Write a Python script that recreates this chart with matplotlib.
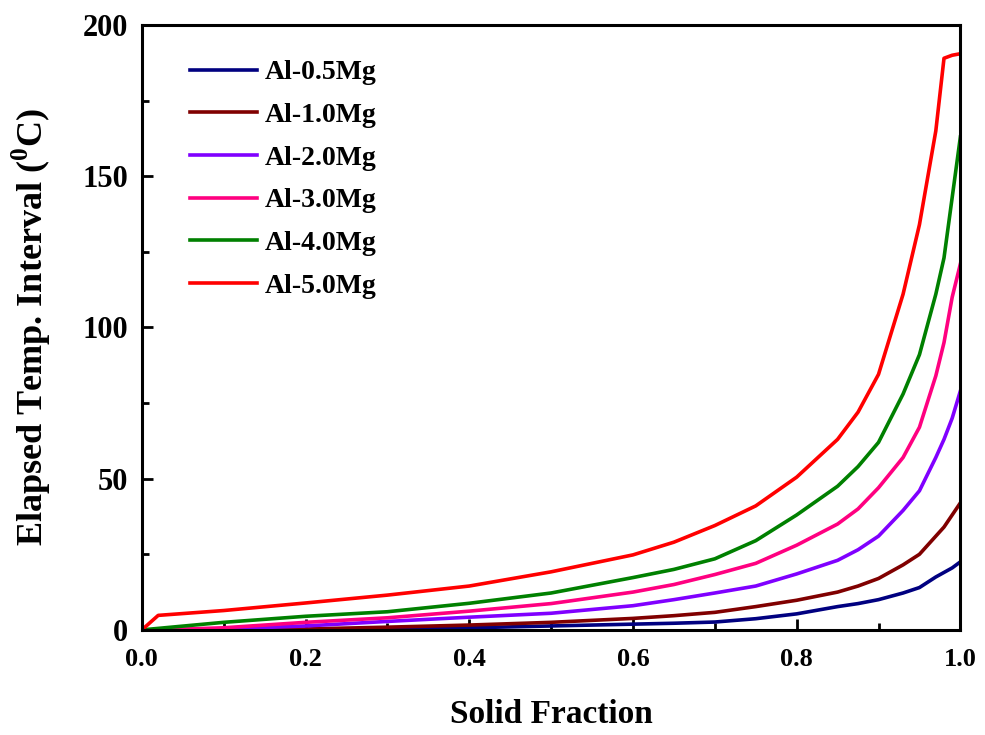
import matplotlib.pyplot as plt
from matplotlib.ticker import MultipleLocator

plt.rcParams['font.family'] = ['Liberation Serif', 'DejaVu Serif']
plt.rcParams['font.weight'] = 'bold'
plt.rcParams['mathtext.fontset'] = 'custom'
plt.rcParams['mathtext.rm'] = 'Liberation Serif:bold'
plt.rcParams['mathtext.bf'] = 'Liberation Serif:bold'

# solid fraction grid
fs = [0, 0.02, 0.1, 0.2, 0.3, 0.4, 0.5, 0.6, 0.65, 0.7, 0.75, 0.8, 0.85, 0.875,
      0.9, 0.93, 0.95, 0.97, 0.98, 0.99, 1.0]

# elapsed temperature interval (C) per alloy
mg05 = [0, 0, 0, 0, 0.3, 0.7, 1.3, 1.9, 2.2, 2.6, 3.7, 5.3, 7.7, 8.7,
        10, 12.2, 14, 17.5, 19, 20.5, 22.5]
mg10 = [0, 0, 0, 0.3, 0.9, 1.6, 2.5, 3.8, 4.7, 5.8, 7.7, 9.8, 12.5, 14.5,
        17, 21.5, 25, 31, 34, 38, 42]
mg20 = [0, 0, 0.3, 1.3, 2.8, 4.2, 5.5, 8.0, 10, 12.2, 14.5, 18.5, 23, 26.5,
        31, 39.5, 46, 57, 63, 70, 79]
mg30 = [0, 0, 0.7, 2.5, 4.0, 6.2, 8.7, 12.5, 15, 18.3, 22, 28, 35, 40,
        47, 57, 67, 84, 95, 110, 121]
mg40 = [0, 0.5, 2.5, 4.5, 6.0, 8.8, 12.2, 17.3, 20, 23.5, 29.5, 38, 47.5, 54,
        62, 78, 91, 111, 123, 143, 163]
mg50 = [0, 4.8, 6.4, 8.9, 11.5, 14.5, 19.2, 24.8, 29, 34.5, 41, 50.5, 63, 72,
        84.5, 111, 134, 165, 189, 190, 190.5]

labels = ['Al-0.5Mg', 'Al-1.0Mg', 'Al-2.0Mg', 'Al-3.0Mg', 'Al-4.0Mg', 'Al-5.0Mg']
colors = ['#000080', '#800000', '#8000FF', '#FF0080', '#008000', '#FF0000']

fig = plt.figure(figsize=(9.85, 7.35), dpi=100)
ax = fig.add_axes([0.144, 0.143, 0.831, 0.823])

for ys, lab, c in zip([mg05, mg10, mg20, mg30, mg40, mg50], labels, colors):
    ax.plot(fs, ys, color=c, lw=2.6, label=lab)

ax.set_xlim(0, 1.0)
ax.set_ylim(0, 200)
ax.xaxis.set_major_locator(MultipleLocator(0.2))
ax.xaxis.set_minor_locator(MultipleLocator(0.1))
ax.yaxis.set_major_locator(MultipleLocator(50))
ax.yaxis.set_minor_locator(MultipleLocator(25))
ax.tick_params(which='both', direction='in', width=2)
ax.tick_params(which='major', length=8)
ax.tick_params(which='minor', length=5)
ax.tick_params(axis='x', labelsize=19, pad=13)
ax.tick_params(axis='y', labelsize=22, pad=10)
ax.set_xticklabels(['%.1f' % v for v in ax.get_xticks()])
for s in ax.spines.values():
    s.set_linewidth(2.2)

ax.set_xlabel('Solid Fraction', fontsize=24, fontweight='bold', labelpad=20)
ax.set_ylabel(r'Elapsed Temp. Interval ($^{\mathbf{0}}$C)', fontsize=26,
              fontweight='bold', labelpad=21)

ax.legend(loc='upper left', bbox_to_anchor=(0.042, 0.965), frameon=False,
          fontsize=20, handlelength=2.4, labelspacing=0.62, borderpad=0,
          handletextpad=0.3)

plt.savefig('out.png', dpi=100)
